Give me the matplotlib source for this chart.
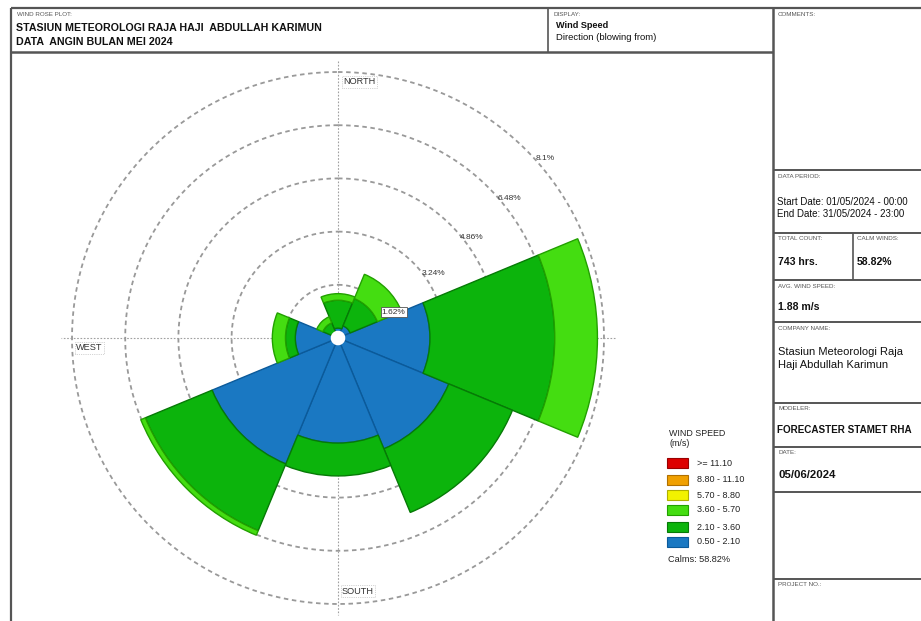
import numpy as np
import matplotlib
matplotlib.use("Agg")
import matplotlib.pyplot as plt
from matplotlib.patches import Rectangle

plt.rcParams['font.family'] = ['Liberation Sans', 'DejaVu Sans']

# ---------------- data ----------------
directions = ["N", "NE", "E", "SE", "S", "SW", "W", "NW"]
bin_labels = ["0.50 - 2.10", "2.10 - 3.60", "3.60 - 5.70",
              "5.70 - 8.80", "8.80 - 11.10", ">= 11.10"]
bin_colors = ["#1a78c2", "#0cb40c", "#44dd11", "#f2f200", "#f0a000", "#dd0000"]
bin_edges = ["#0b5a9a", "#067a06", "#22a000", "#b0b000", "#b07000", "#990000"]
freq_05_21 = [0.30, 0.40, 2.80, 3.65, 3.20, 4.15, 1.30, 0.20]
freq_21_36 = [0.85, 0.90, 3.80, 2.10, 1.00, 2.20, 0.30, 0.30]
freq_36_57 = [0.20, 0.80, 1.30, 0.00, 0.00, 0.15, 0.40, 0.20]
freq_57_88 = [0, 0, 0, 0, 0, 0, 0, 0]
freq_88_111 = [0, 0, 0, 0, 0, 0, 0, 0]
freq_111 = [0, 0, 0, 0, 0, 0, 0, 0]
ring_values = [1.62, 3.24, 4.86, 6.48, 8.1]
ring_labels = ["1.62%", "3.24%", "4.86%", "6.48%", "8.1%"]
calm_text = "Calms: 58.82%"

W, H = 921, 621
fig = plt.figure(figsize=(W / 100, H / 100), dpi=100)
fig.patch.set_facecolor("white")

# ---------- overlay axes in pixel coordinates (frame and text) ----------
ov = fig.add_axes([0, 0, 1, 1])
ov.set_xlim(0, W)
ov.set_ylim(H, 0)
ov.axis("off")

lc = "#555555"
def hline(y, x0, x1, lw=1.3):
    ov.plot([x0, x1], [y, y], color=lc, lw=lw, solid_capstyle="butt")
def vline(x, y0, y1, lw=1.3):
    ov.plot([x, x], [y0, y1], color=lc, lw=lw, solid_capstyle="butt")

vline(11, 8, H, 1.6)
hline(8, 11, W, 1.6)
hline(52, 11, 773, 1.8)
vline(548, 8, 52, 1.2)
vline(773, 8, H, 1.8)
for y in [170, 233, 280, 322, 403, 447, 492, 579]:
    hline(y, 773, W, 1.4)
vline(853, 233, 280, 1.2)

def small(x, y, s):
    ov.text(x, y, s, fontsize=4.5, color="#555555", va="center", ha="left")
def val(x, y, s, size=6.0, weight="normal"):
    ov.text(x, y, s, fontsize=size, color="#111111", va="center", ha="left",
            fontweight=weight)

small(17, 14, "WIND ROSE PLOT:")
val(16, 28, "STASIUN METEOROLOGI RAJA HAJI  ABDULLAH KARIMUN", 7.7, "bold")
val(16, 42, "DATA  ANGIN BULAN MEI 2024", 7.7, "bold")
small(553, 14, "DISPLAY:")
val(556, 26, "Wind Speed", 6.6, "bold")
val(556, 37, "Direction (blowing from)", 6.8)
small(778, 14, "COMMENTS:")
small(778, 176, "DATA PERIOD:")
val(777, 202, "Start Date: 01/05/2024 - 00:00", 7.0)
val(777, 214, "End Date: 31/05/2024 - 23:00", 7.0)
small(778, 239, "TOTAL COUNT:")
val(778, 262, "743 hrs.", 7.6, "bold")
small(857, 239, "CALM WINDS:")
val(857, 262, "58.82%", 7.6, "bold")
small(778, 286, "AVG. WIND SPEED:")
val(778, 307, "1.88 m/s", 7.6, "bold")
small(778, 328, "COMPANY NAME:")
val(778, 352, "Stasiun Meteorologi Raja", 8.0)
val(778, 365, "Haji Abdullah Karimun", 8.0)
small(778, 409, "MODELER:")
val(777, 430, "FORECASTER STAMET RHA", 7.1, "bold")
small(778, 453, "DATE:")
val(778, 475, "05/06/2024", 8.2, "bold")
small(778, 585, "PROJECT NO.:")

# legend
ov.text(669, 433, "WIND SPEED", fontsize=6.4, va="center", ha="left", color="#222222")
ov.text(669, 444, "(m/s)", fontsize=6.4, va="center", ha="left", color="#222222")
leg_y = [463, 480, 495, 510, 527, 542]
for i, lab in enumerate(bin_labels[::-1]):
    ci = len(bin_labels) - 1 - i
    ov.add_patch(Rectangle((667, leg_y[i] - 5), 21, 10, facecolor=bin_colors[ci],
                           edgecolor=bin_edges[ci], lw=0.8))
    ov.text(697, leg_y[i], lab, fontsize=6.5, va="center", ha="left", color="#222222")
ov.text(668, 560, calm_text, fontsize=6.6, va="center", ha="left", color="#222222")

# ---------------- wind rose (polar axes) ----------------
cx, cy, R = 338, 338, 266
rmax = ring_values[-1]
ax = fig.add_axes([(cx - R) / W, (H - cy - R) / H, 2 * R / W, 2 * R / H],
                  projection="polar")
ax.set_theta_zero_location("N")
ax.set_theta_direction(-1)
ax.set_ylim(0, rmax)
ax.patch.set_alpha(0)
ax.spines["polar"].set_visible(False)
ax.grid(False)
ax.set_xticks([])
ax.set_yticks([])

theta = np.deg2rad(np.arange(len(directions)) * 45.0)
width = np.deg2rad(45.0)
series = [freq_05_21, freq_21_36, freq_36_57, freq_57_88, freq_88_111, freq_111]
bottom = np.zeros(len(directions))
for vals, col, ec in zip(series, bin_colors, bin_edges):
    vals = np.asarray(vals, dtype=float)
    mask = vals > 0
    if mask.any():
        ax.bar(theta[mask], vals[mask], width=width, bottom=bottom[mask],
               color=col, edgecolor=ec, linewidth=1.0, zorder=3, align="center")
    bottom += vals

# rings
tt = np.linspace(0, 2 * np.pi, 400)
for rv in ring_values:
    ax.plot(tt, np.full_like(tt, rv), color="#999999", lw=1.3,
            ls=(0, (2.5, 2.0)), zorder=2, clip_on=False)
# cross lines
ext = rmax * 1.04
for ang in [0, np.pi / 2]:
    ax.plot([ang, ang + np.pi], [ext, ext], color="#a0a0a0", lw=0.8,
            ls=(0, (1.5, 1.5)), zorder=2.5, clip_on=False)
# ring labels
lab_ang = [np.deg2rad(65), np.deg2rad(56), np.deg2rad(53), np.deg2rad(51), np.deg2rad(49)]
for i, (rv, lab) in enumerate(zip(ring_values, ring_labels)):
    kw = dict(fontsize=6.0, ha="center", va="center", color="#333333", zorder=6,
              clip_on=False)
    if i == 0:
        kw["bbox"] = dict(boxstyle="square,pad=0.15", fc="white", ec="#555555", lw=0.6)
    ax.text(lab_ang[i], rv + 0.25, lab, **kw)

# calm centre circle
ax.bar([0], [0.2], width=2 * np.pi, bottom=0, color="white", edgecolor="white",
       zorder=5)

# compass labels (pixel positions in overlay)
box = dict(boxstyle="square,pad=0.15", fc="white", ec="#aaaaaa", lw=0.5, ls=":")
ov.text(343, 82, "NORTH", fontsize=6.6, ha="left", va="center", color="#333333", bbox=box, zorder=7)
ov.text(342, 591, "SOUTH", fontsize=6.6, ha="left", va="center", color="#333333", bbox=box, zorder=7)
ov.text(76, 348, "WEST", fontsize=6.6, ha="left", va="center", color="#333333", bbox=box, zorder=7)
ov.text(543, 347, "EAST", fontsize=6.6, ha="left", va="center", color="#333333", bbox=box, zorder=7)

fig.savefig("out.png", dpi=100, facecolor="white")
